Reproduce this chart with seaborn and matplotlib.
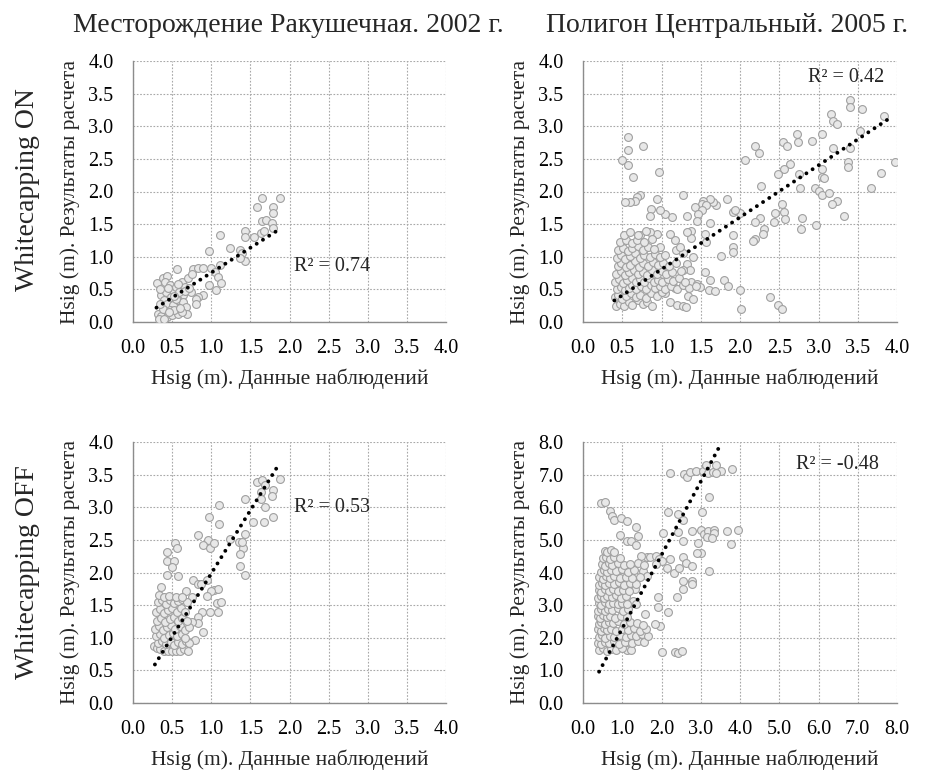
import numpy as np
import pandas as pd
import matplotlib
matplotlib.use("Agg")
import matplotlib.pyplot as plt
import seaborn as sns

# ---------------- data ----------------
titles = ["Месторождение Ракушечная. 2002 г.", "Полигон Центральный. 2005 г."]
row_labels = ["Whitecapping ON", "Whitecapping OFF"]
x_label = "Hsig (m). Данные наблюдений"
y_label = "Hsig (m). Результаты расчета"
r2_texts = ["R² = 0.74", "R² = 0.42", "R² = 0.53", "R² = -0.48"]

ticks_small = [0.0, 0.5, 1.0, 1.5, 2.0, 2.5, 3.0, 3.5, 4.0]
ticks_large = [0.0, 1.0, 2.0, 3.0, 4.0, 5.0, 6.0, 7.0, 8.0]

p1_pts = [
    (1.65, 1.90), (1.88, 1.90), (1.59, 1.76), (1.79, 1.76), (1.79, 1.67), (1.65, 1.55), (1.70, 1.57),
    (1.77, 1.52), (1.79, 1.44), (1.63, 1.36), (1.68, 1.39), (1.43, 1.40), (1.43, 1.30), (1.54, 1.30),
    (1.11, 1.33), (1.24, 1.14), (0.97, 1.09), (1.37, 1.11), (1.39, 1.05), (1.43, 0.93), (1.37, 0.98),
    (1.11, 0.87), (0.56, 0.81), (0.77, 0.81), (0.83, 0.82), (0.90, 0.83), (1.00, 0.82), (1.05, 0.77),
    (1.09, 0.69), (1.13, 0.60), (0.97, 0.56), (1.06, 0.49), (0.90, 0.41), (0.83, 0.39), (0.81, 0.36),
    (0.81, 0.28),
    (0.31, 0.60), (0.38, 0.67), (0.44, 0.70), (0.41, 0.61), (0.47, 0.56), (0.51, 0.49), (0.55, 0.54),
    (0.62, 0.61), (0.70, 0.67), (0.75, 0.73), (0.66, 0.54), (0.74, 0.46), (0.64, 0.41), (0.36, 0.41),
    (0.40, 0.33), (0.44, 0.28), (0.51, 0.26), (0.57, 0.33), (0.64, 0.31), (0.68, 0.23), (0.69, 0.13),
    (0.32, 0.13), (0.36, 0.09), (0.44, 0.08), (0.50, 0.10), (0.57, 0.13), (0.62, 0.15), (0.38, 0.20),
    (0.47, 0.18), (0.53, 0.19), (0.34, 0.28), (0.42, 0.46), (0.49, 0.38), (0.59, 0.46), (0.55, 0.36),
    (0.33, 0.05), (0.40, 0.05), (0.46, 0.15), (0.52, 0.40), (0.60, 0.22), (0.45, 0.52), (0.35, 0.50),
    (0.58, 0.58), (0.67, 0.48), (0.72, 0.52),
]
p1_trend_x = [0.30, 1.83]
p1_trend_y = [0.22, 1.39]

p2_pts = [
    (3.40, 3.40), (3.40, 3.29), (3.56, 3.27), (3.16, 3.19), (3.18, 3.08), (3.23, 3.03), (3.83, 3.16),
    (3.53, 2.93), (3.04, 2.88), (2.73, 2.88), (2.92, 2.78), (2.74, 2.76), (2.55, 2.76), (2.60, 2.69),
    (3.18, 2.67), (3.40, 2.67), (2.19, 2.69), (2.24, 2.59), (2.07, 2.48), (2.64, 2.42), (2.56, 2.35),
    (2.49, 2.27), (2.75, 2.27), (3.04, 2.35), (3.04, 2.22), (3.07, 2.21), (3.37, 2.45), (3.37, 2.37),
    (3.97, 2.45), (3.79, 2.29), (3.67, 2.06), (2.96, 2.05), (3.00, 2.01), (3.04, 1.95), (3.13, 1.97),
    (2.77, 2.06), (3.24, 1.85), (3.17, 1.81), (3.33, 1.62), (2.97, 1.49), (2.78, 1.43), (2.79, 1.59),
    (2.54, 1.81), (2.56, 1.68), (2.57, 1.58), (2.45, 1.67), (2.43, 1.53), (2.27, 2.08), (2.26, 1.59),
    (2.19, 1.53), (2.31, 1.43), (2.29, 1.35), (2.19, 1.27), (2.16, 1.24), (2.00, 1.67), (1.91, 1.69),
    (1.94, 1.71), (1.91, 1.33), (1.91, 1.15), (1.91, 1.07), (1.76, 1.01), (1.80, 0.65), (1.85, 0.55),
    (2.00, 0.49), (2.01, 0.20), (2.38, 0.38), (2.49, 0.26), (2.54, 0.20), (1.83, 1.89), (1.70, 1.79),
    (1.66, 1.84), (1.62, 1.89), (1.53, 1.86), (1.51, 1.81), (1.57, 1.79), (1.43, 1.76), (1.51, 1.71),
    (1.47, 1.66), (1.62, 1.52), (1.55, 1.35), (1.57, 1.22), (1.45, 1.55), (1.38, 1.40), (1.32, 1.62),
    (1.27, 1.94), (1.13, 1.61), (1.04, 1.65), (0.98, 1.71), (0.94, 1.89), (0.86, 1.73), (0.85, 1.63),
    (0.72, 1.94), (0.69, 1.91), (0.66, 1.86), (0.60, 1.84), (0.54, 1.84), (0.57, 2.83), (0.57, 2.64),
    (0.77, 2.69), (0.50, 2.49), (0.57, 2.40), (0.64, 2.22), (0.97, 2.30), (1.38, 0.61), (1.45, 0.59),
    (1.49, 0.53), (1.56, 0.77), (1.62, 0.64), (1.60, 0.49), (1.68, 0.47), (1.34, 0.40), (1.40, 0.36),
    (1.11, 0.31), (1.20, 0.26), (1.27, 0.24), (1.31, 0.23), (1.04, 0.44), (1.17, 0.52), (0.98, 1.15),
    (1.19, 1.10), (1.27, 1.05), (1.40, 0.99), (1.32, 0.89), (1.36, 0.79), (1.28, 0.79), (1.23, 1.15),
    (1.17, 1.25), (1.38, 1.28), (1.32, 1.38), (1.11, 1.35), (0.94, 1.35), (0.72, 1.33), (0.85, 1.38),
    (0.42, 0.25), (0.47, 0.28), (0.52, 0.24), (0.58, 0.30), (0.63, 0.26), (0.70, 0.33), (0.76, 0.27),
    (0.82, 0.31), (0.88, 0.25), (0.41, 0.38), (0.45, 0.42), (0.50, 0.36), (0.55, 0.40), (0.61, 0.44),
    (0.67, 0.38), (0.73, 0.42), (0.80, 0.37), (0.86, 0.45), (0.94, 0.40), (1.00, 0.46), (0.43, 0.50),
    (0.48, 0.54), (0.53, 0.49), (0.58, 0.52), (0.63, 0.56), (0.68, 0.50), (0.74, 0.55), (0.80, 0.50),
    (0.86, 0.57), (0.92, 0.52), (0.98, 0.55), (1.05, 0.50), (1.12, 0.55), (1.20, 0.50), (1.27, 0.56),
    (1.35, 0.52), (1.44, 0.55), (0.41, 0.62), (0.46, 0.66), (0.51, 0.60), (0.56, 0.64), (0.62, 0.68),
    (0.67, 0.61), (0.72, 0.66), (0.78, 0.62), (0.84, 0.67), (0.90, 0.61), (0.95, 0.65), (1.01, 0.62),
    (1.08, 0.66), (1.15, 0.63), (1.22, 0.67), (1.30, 0.62), (0.42, 0.74), (0.48, 0.78), (0.54, 0.72),
    (0.59, 0.76), (0.65, 0.80), (0.70, 0.73), (0.76, 0.77), (0.82, 0.72), (0.88, 0.79), (0.94, 0.74),
    (1.00, 0.78), (1.06, 0.73), (1.13, 0.76), (1.25, 0.78), (0.44, 0.86), (0.49, 0.90), (0.55, 0.84),
    (0.60, 0.88), (0.66, 0.93), (0.71, 0.85), (0.77, 0.90), (0.83, 0.86), (0.89, 0.92), (0.96, 0.87),
    (1.02, 0.91), (1.09, 0.86), (1.18, 0.90), (0.43, 0.98), (0.48, 1.02), (0.54, 0.97), (0.60, 1.01),
    (0.66, 1.05), (0.72, 0.98), (0.78, 1.03), (0.85, 0.99), (0.92, 1.04), (0.98, 1.00), (1.05, 1.03),
    (0.45, 1.10), (0.51, 1.14), (0.57, 1.09), (0.63, 1.13), (0.70, 1.17), (0.76, 1.10), (0.83, 1.15),
    (0.90, 1.12), (0.47, 1.22), (0.55, 1.26), (0.62, 1.21), (0.69, 1.25), (0.78, 1.22), (0.88, 1.27),
    (0.52, 1.34), (0.60, 1.38), (0.70, 1.33), (0.80, 1.40),
]
p2_trend_x = [0.40, 3.94]
p2_trend_y = [0.33, 3.15]

p3_pts = [
    (1.88, 3.44), (1.58, 3.39), (1.65, 3.41), (1.69, 3.34), (1.63, 3.24), (1.79, 3.26), (1.77, 3.18),
    (1.64, 3.12), (1.69, 3.00), (1.79, 2.85), (1.68, 2.78), (1.53, 2.78), (1.43, 3.12), (1.10, 3.03),
    (1.10, 2.75), (0.97, 2.85), (0.83, 2.58), (0.96, 2.50), (0.90, 2.42), (0.98, 2.38), (1.04, 2.45),
    (1.24, 2.52), (1.35, 2.47), (1.43, 2.59), (1.41, 2.37), (1.37, 2.29), (1.39, 2.47), (1.37, 2.10),
    (1.43, 1.96), (0.54, 2.45), (0.56, 2.37), (0.44, 2.31), (0.44, 2.18), (0.53, 2.18), (0.50, 2.09),
    (0.44, 1.96), (0.58, 1.94), (0.77, 1.89), (0.83, 1.83), (0.87, 1.83), (0.95, 1.89), (1.04, 1.73),
    (1.09, 1.75), (1.00, 1.71), (0.95, 1.64), (1.07, 1.53), (1.12, 1.55), (1.09, 1.39), (0.98, 1.39),
    (0.88, 1.40), (0.83, 1.32), (0.83, 1.22), (0.90, 1.09), (0.79, 0.97), (0.75, 1.24), (0.68, 1.72),
    (0.75, 1.63), (0.36, 1.78),
    (0.27, 0.88), (0.31, 0.85), (0.35, 0.82), (0.40, 0.80), (0.45, 0.80), (0.50, 0.80), (0.55, 0.80),
    (0.60, 0.80), (0.65, 0.82), (0.70, 0.80), (0.32, 0.92), (0.37, 0.95), (0.42, 0.90), (0.48, 0.94),
    (0.53, 0.89), (0.58, 0.93), (0.63, 0.91), (0.68, 0.95), (0.72, 0.92), (0.30, 1.02), (0.35, 1.06),
    (0.40, 1.00), (0.46, 1.04), (0.51, 1.08), (0.56, 1.02), (0.62, 1.06), (0.66, 1.00), (0.28, 1.13),
    (0.33, 1.18), (0.38, 1.12), (0.43, 1.16), (0.48, 1.20), (0.54, 1.14), (0.60, 1.18), (0.66, 1.12),
    (0.71, 1.16), (0.31, 1.26), (0.36, 1.30), (0.41, 1.24), (0.47, 1.28), (0.52, 1.32), (0.57, 1.26),
    (0.63, 1.30), (0.69, 1.25), (0.30, 1.40), (0.34, 1.44), (0.39, 1.38), (0.45, 1.42), (0.50, 1.46),
    (0.56, 1.40), (0.61, 1.45), (0.67, 1.40), (0.32, 1.55), (0.37, 1.58), (0.42, 1.52), (0.47, 1.58),
    (0.52, 1.54), (0.58, 1.57), (0.63, 1.60), (0.69, 1.55), (0.33, 1.65), (0.40, 1.62), (0.46, 1.64),
    (0.55, 1.62), (0.62, 1.63),
]
p3_trend_x = [0.28, 1.85]
p3_trend_y = [0.59, 3.63]

p4_pts = [
    (2.21, 7.06), (2.57, 7.01), (2.64, 6.94), (2.72, 7.09), (2.89, 7.11), (3.06, 7.11), (3.13, 7.29),
    (3.19, 7.04), (3.32, 7.09), (3.40, 7.29), (3.51, 7.11), (3.80, 7.16), (3.40, 7.04), (3.22, 6.31),
    (0.47, 6.13), (0.57, 6.16), (0.68, 5.89), (0.74, 5.72), (0.78, 5.61), (0.98, 5.67), (1.11, 5.57),
    (1.34, 5.40), (2.17, 5.84), (2.43, 5.80), (2.54, 5.60), (3.02, 5.85), (2.43, 5.25), (2.77, 5.27),
    (3.00, 5.29), (3.08, 5.18), (3.19, 5.27), (3.34, 5.29), (3.34, 5.20), (3.15, 5.08), (3.28, 5.06),
    (3.66, 5.27), (3.94, 5.30), (3.76, 4.86), (2.03, 5.22), (0.95, 5.14), (1.41, 5.13), (1.11, 4.96),
    (1.23, 4.96), (1.36, 4.84), (2.55, 4.96), (2.94, 4.89), (3.00, 4.61), (2.91, 4.61), (2.54, 4.49),
    (2.62, 4.30), (2.77, 4.20), (2.21, 4.40), (2.13, 4.15), (2.31, 4.00), (2.44, 4.13), (3.22, 4.05),
    (2.55, 3.75), (2.77, 3.75), (2.77, 3.65), (2.55, 3.49), (2.40, 3.24), (1.90, 3.24), (1.91, 2.94),
    (2.17, 2.78), (1.59, 2.73), (1.96, 2.36), (1.83, 2.41), (2.00, 1.55), (2.34, 1.57), (2.43, 1.52),
    (2.53, 1.59), (1.12, 1.62), (1.23, 1.62), (1.62, 4.46), (1.70, 4.48), (1.49, 4.51), (1.87, 4.51),
    (1.94, 4.40), (2.00, 4.35), (1.87, 4.25), (1.53, 4.05), (1.62, 3.90), (1.45, 3.85), (1.32, 3.49),
    (1.28, 3.14), (1.36, 3.04),
    (0.42, 1.62), (0.50, 1.68), (0.60, 1.60), (0.72, 1.66), (0.85, 1.63), (1.00, 1.70),
    (0.38, 1.85), (0.46, 1.80), (0.55, 1.88), (0.65, 1.83), (0.78, 1.90), (0.92, 1.82), (1.08, 1.87),
    (1.25, 1.84), (1.40, 1.90), (1.55, 1.86), (0.40, 2.02), (0.48, 2.08), (0.57, 2.00), (0.68, 2.06),
    (0.80, 2.03), (0.95, 2.09), (1.10, 2.01), (1.22, 2.07), (1.35, 2.04), (1.50, 2.10), (1.65, 2.05),
    (0.38, 2.27), (0.45, 2.21), (0.53, 2.29), (0.62, 2.23), (0.72, 2.28), (0.85, 2.22), (1.00, 2.26),
    (1.15, 2.24), (1.30, 2.30), (1.45, 2.22), (1.60, 2.27), (0.40, 2.43), (0.47, 2.49), (0.56, 2.41),
    (0.66, 2.47), (0.77, 2.44), (0.90, 2.50), (1.05, 2.42), (1.20, 2.48), (1.38, 2.45), (1.52, 2.40),
    (0.38, 2.66), (0.44, 2.61), (0.52, 2.69), (0.60, 2.63), (0.70, 2.68), (0.82, 2.62), (0.96, 2.67),
    (1.12, 2.64), (0.39, 2.83), (0.46, 2.89), (0.55, 2.81), (0.64, 2.87), (0.75, 2.84), (0.88, 2.90),
    (1.02, 2.82), (1.15, 2.88), (0.40, 3.07), (0.47, 3.01), (0.55, 3.09), (0.65, 3.03), (0.76, 3.08),
    (0.88, 3.02), (1.00, 3.06), (1.12, 3.04), (0.38, 3.23), (0.45, 3.29), (0.53, 3.21), (0.62, 3.27),
    (0.73, 3.24), (0.85, 3.30), (0.97, 3.22), (1.10, 3.28), (0.40, 3.47), (0.47, 3.41), (0.56, 3.49),
    (0.66, 3.43), (0.77, 3.48), (0.90, 3.42), (1.03, 3.46), (1.18, 3.44), (0.41, 3.63), (0.48, 3.69),
    (0.57, 3.61), (0.67, 3.67), (0.78, 3.64), (0.92, 3.70), (1.05, 3.62), (1.20, 3.68), (1.35, 3.65),
    (0.42, 3.87), (0.50, 3.81), (0.58, 3.89), (0.68, 3.83), (0.80, 3.88), (0.95, 3.82), (1.10, 3.86),
    (1.25, 3.84), (0.45, 4.03), (0.53, 4.09), (0.62, 4.01), (0.72, 4.07), (0.85, 4.04), (1.00, 4.10),
    (1.15, 4.02), (1.30, 4.08), (0.48, 4.27), (0.56, 4.21), (0.65, 4.29), (0.75, 4.23), (0.88, 4.28),
    (1.05, 4.22), (1.20, 4.26), (1.40, 4.30), (1.55, 4.24), (0.50, 4.43), (0.58, 4.49), (0.68, 4.41),
    (0.80, 4.47), (0.95, 4.44), (0.55, 4.66), (0.62, 4.62), (0.72, 4.68), (0.80, 4.64),
]
p4_trend_x = [0.41, 3.53]
p4_trend_y = [0.96, 7.98]

# ---------------- style ----------------
sns.set_style("white")
plt.rcParams["font.family"] = ["Liberation Serif", "DejaVu Serif"]

fig = plt.figure(figsize=(9.25, 7.7), dpi=100)
W, H = 925.0, 770.0

def axes_px(left, top, right, bottom):
    return fig.add_axes([left / W, 1 - bottom / H, (right - left) / W, (bottom - top) / H])

ax1 = axes_px(133, 61, 446, 322)
ax2 = axes_px(583, 61, 897, 322)
ax3 = axes_px(133, 442, 446, 703)
ax4 = axes_px(583, 442, 897, 703)

panels = [
    (ax1, p1_pts, p1_trend_x, p1_trend_y, ticks_small, r2_texts[0], (2.06, 0.85), "left"),
    (ax2, p2_pts, p2_trend_x, p2_trend_y, ticks_small, r2_texts[1], (3.84, 3.75), "right"),
    (ax3, p3_pts, p3_trend_x, p3_trend_y, ticks_small, r2_texts[2], (2.06, 3.0), "left"),
    (ax4, p4_pts, p4_trend_x, p4_trend_y, ticks_large, r2_texts[3], (7.55, 7.3), "right"),
]

TICK_FS = 14.5
LABEL_FS = 15.5
for ax, pts, tx, ty, ticks, r2, r2pos, r2ha in panels:
    df = pd.DataFrame(pts, columns=["x", "y"])
    sns.scatterplot(data=df, x="x", y="y", ax=ax, s=32, color="#e8e8e8",
                    edgecolor="#a0a0a0", linewidth=0.8, zorder=3)
    tdf = pd.DataFrame({"x": tx, "y": ty})
    sns.lineplot(data=tdf, x="x", y="y", ax=ax, color="black", lw=2.8,
                 linestyle=(0, (0.01, 1.9)), dash_capstyle="round", zorder=4)
    ax.set_xlim(ticks[0], ticks[-1])
    ax.set_ylim(ticks[0], ticks[-1])
    ax.set_xticks(ticks)
    ax.set_yticks(ticks)
    ax.set_xticklabels([f"{t:.1f}" for t in ticks])
    ax.set_yticklabels([f"{t:.1f}" for t in ticks])
    ax.tick_params(axis="both", length=0, labelsize=TICK_FS, colors="black")
    ax.tick_params(axis="x", pad=12)
    ax.tick_params(axis="y", pad=14)
    ax.grid(True, linestyle=(0, (1.5, 1.5)), color="#a8a8a8", linewidth=0.8, zorder=0)
    ax.set_axisbelow(True)
    for side in ["top", "right"]:
        ax.spines[side].set_visible(False)
    for side in ["left", "bottom"]:
        ax.spines[side].set_color("#8c8c8c")
        ax.spines[side].set_linewidth(1.0)
    ax.set_xlabel(x_label, fontsize=LABEL_FS)
    ax.set_ylabel(y_label, fontsize=LABEL_FS)
    ax.xaxis.set_label_coords(0.5, -57.0 / 261.0)
    ax.xaxis.label.set_va("center")
    ax.yaxis.set_label_coords(-63.0 / 313.0, 0.5)
    ax.yaxis.label.set_va("center")
    ax.text(r2pos[0], r2pos[1], r2, fontsize=TICK_FS, ha=r2ha, va="center", zorder=5)

fig.text(288 / W, 1 - 32 / H, titles[0], fontsize=20, ha="center", va="baseline")
fig.text(727 / W, 1 - 32 / H, titles[1], fontsize=20, ha="center", va="baseline")
fig.text(28 / W, 1 - 190 / H, row_labels[0], fontsize=20, ha="center", va="center", rotation=90)
fig.text(28 / W, 1 - 572 / H, row_labels[1], fontsize=20, ha="center", va="center", rotation=90)

fig.savefig("out.png", dpi=100, facecolor="white")
